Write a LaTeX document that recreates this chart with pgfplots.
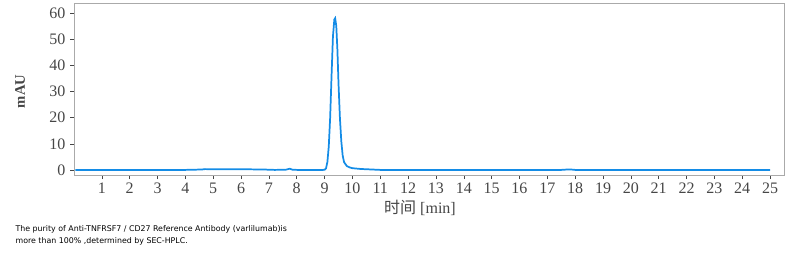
\documentclass[border=0pt]{standalone}
\usepackage{fontspec}
\setmainfont{Liberation Serif}
\newfontfamily\cjk{Noto Sans CJK SC}
\newfontfamily\capfont{DejaVu Sans}
\usepackage{pgfplots}
\pgfplotsset{compat=1.18}
\definecolor{lineblue}{RGB}{20,140,230}
\definecolor{framegray}{RGB}{170,170,170}
\definecolor{tickgray}{RGB}{70,70,70}
\begin{document}
\begin{tikzpicture}[x=1pt,y=1pt]
\useasboundingbox (0,0) rectangle (588.75,190.5);
\begin{axis}[
  at={(55.5pt,59.25pt)}, anchor=south west,
  scale only axis, width=532.5pt, height=129pt,
  xmin=0, xmax=25.5, ymin=-1.9, ymax=63.8,
  xtick={1,...,25}, ytick={0,10,...,60},
  tick align=outside, tick pos=left,
  major tick length=3pt,
  axis line style={framegray},
  every tick/.style={tickgray},
  tick label style={font=\fontsize{12}{12}\selectfont, text=tickgray},
  /pgf/number format/assume math mode=true,
  xticklabel style={inner sep=1pt, yshift=-2pt},
  clip=true,
]
\addplot[lineblue, line width=1.3pt] coordinates {
(0.05,0.0) (1,0.0) (2,0.0) (3,0.0) (4,0.05) (4.6,0.2) (4.7,0.35) (5,0.3) (6,0.3) (6.8,0.2) (7.2,0.05)
(7.6,0.1) (7.75,0.5) (7.85,0.1) (8.2,0.0) (8.9,0.0)
(9.00,0.1) (9.05,0.6) (9.10,3) (9.15,9) (9.20,20) (9.25,36) (9.30,51) (9.35,57.5) (9.38,58)
(9.42,55) (9.46,46) (9.50,33) (9.55,20) (9.60,11) (9.65,5.5) (9.70,3) (9.80,1.5) (9.90,1.0)
(10.0,0.7) (10.3,0.4) (10.7,0.2) (11.0,0.05) (12,0.0) (14,0.0) (16,0.0) (17.5,0.05) (17.8,0.25)
(18.0,0.05) (19,0.0) (21,0.0) (23,0.0) (25,0.0)
};
\end{axis}
\node[font=\fontsize{12}{12}\selectfont, text=tickgray, inner sep=0pt] at (315,34.5) {{\cjk 时间} [min]};
\node[rotate=90, font=\fontsize{11}{11}\selectfont\bfseries, text=tickgray] at (15,122) {mAU};
\node[anchor=north west, align=left, font=\capfont\fontsize{5.9}{9}\selectfont, inner sep=0pt] at (11.5,21.5)
 {The purity of Anti-TNFRSF7 / CD27 Reference Antibody (varlilumab)is\\more than 100\% ,determined by SEC-HPLC.};
\end{tikzpicture}
\end{document}
